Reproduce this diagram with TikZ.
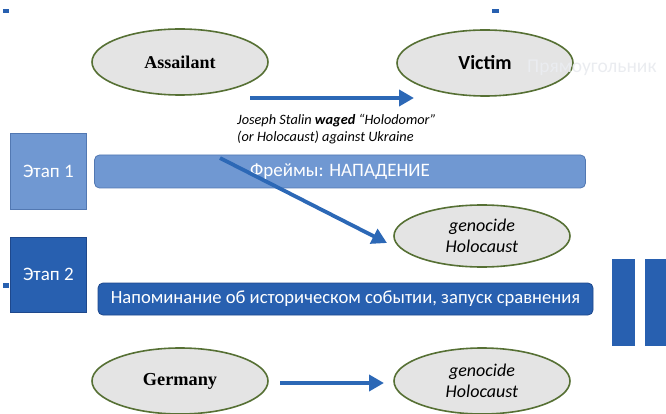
\documentclass[tikz,border=0pt]{standalone}
\usepackage{fontspec}
\setmainfont{Carlito}
\newfontfamily\timesf{Liberation Serif}
\usetikzlibrary{shapes.geometric,arrows.meta}
\definecolor{ellfill}{RGB}{228,228,228}
\definecolor{ellline}{RGB}{86,112,52}
\definecolor{lightblue}{RGB}{112,152,210}
\definecolor{lightblueline}{RGB}{82,120,178}
\definecolor{darkblue}{RGB}{40,96,176}
\definecolor{darkblueline}{RGB}{30,72,140}
\definecolor{arrowblue}{RGB}{44,104,182}
\definecolor{faint}{RGB}{234,236,240}
\tikzset{
  x=1pt,y=-1pt,
  oval/.style={ellipse,draw=ellline,line width=1.6pt,fill=ellfill,minimum width=176,minimum height=66,inner sep=0pt},
  stagebox/.style={draw=lightblueline,line width=0.8pt,anchor=north west,text=white,font=\fontsize{19}{22}\selectfont,inner sep=0pt},
  barbox/.style={rounded corners=5pt,line width=0.8pt,text=white,inner sep=0pt},
  bigarrow/.style={draw=arrowblue,line width=3.8pt,-{Triangle[length=15pt,width=16pt]}},
  tick/.style={fill=darkblue,draw=none}
}
\begin{document}
\begin{tikzpicture}
\useasboundingbox (0,0) rectangle (666,414);
% small ticks
\fill[tick] (3,9) rectangle (9,13);
\fill[tick] (492,9) rectangle (499,13);
\fill[tick] (3,283) rectangle (9,288);
% ellipses
\node[oval,font=\timesf\bfseries\fontsize{18}{20}\selectfont] (ass) at (180,62) {Assailant};
\node[oval,font=\bfseries\fontsize{20}{22}\selectfont] (vic) at (485,63) {Victim};
\node[oval,minimum height=62,align=center,font=\itshape\fontsize{18}{21}\selectfont] (g1) at (482,236) {genocide\\Holocaust};
\node[oval,font=\timesf\bfseries\fontsize{18.3}{20}\selectfont] (ger) at (180,381) {Germany};
\node[oval,align=center,font=\itshape\fontsize{18}{21}\selectfont] (g2) at (482,381) {genocide\\Holocaust};
% faint placeholder text over the victim ellipse
\node[anchor=west,text=faint,font=\fontsize{19.5}{22}\selectfont,inner sep=0pt] (ph) at (527,68) {Прямоугольник};
% stage boxes
\node[stagebox,fill=lightblue,minimum width=76,minimum height=76] (st1) at (10,133) {Этап 1};
\node[stagebox,fill=darkblue,draw=darkblueline,minimum width=76,minimum height=75] (st2) at (10,237) {Этап 2};
% bars
\node[barbox,fill=lightblue,draw=lightblueline,minimum width=491,minimum height=33,font=\fontsize{19}{21}\selectfont] (bar1) at (340,171.5) {Фреймы: НАПАДЕНИЕ};
\node[barbox,fill=darkblue,draw=darkblueline,minimum width=495,minimum height=32,font=\fontsize{18.6}{21}\selectfont] (bar2) at (345.5,299) {Напоминание об историческом событии, запуск сравнения};
% right bars
\node[fill=darkblue,draw=none,minimum width=23,minimum height=87,inner sep=0pt,anchor=north west] (rb1) at (612,259) {};
\node[fill=darkblue,draw=none,minimum width=23,minimum height=87,inner sep=0pt,anchor=north west] (rb2) at (645,259) {};
% caption
\node[anchor=north west,align=left,inner sep=0pt,font=\itshape\fontsize{14.3}{17.5}\selectfont] (cap) at (237,114) {Joseph Stalin \textbf{waged} “Holodomor”\\(or Holocaust) against Ukraine};
% arrows
\coordinate (a1s) at (250,98);
\coordinate (a1e) at (414,98);
\draw[bigarrow] (a1s) -- (a1e);
\coordinate (dgs) at (220,158);
\coordinate (dge) at (387,243);
\draw[bigarrow] (dgs) -- (dge);
\coordinate (a3s) at (280,383);
\coordinate (a3e) at (384,383);
\draw[bigarrow] (a3s) -- (a3e);
\end{tikzpicture}
\end{document}
